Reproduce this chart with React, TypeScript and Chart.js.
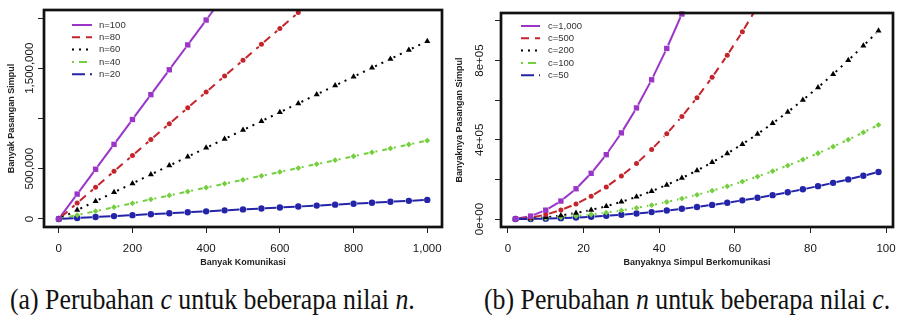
import React, { useEffect, useRef } from 'react';
import { Chart, registerables } from 'chart.js';

Chart.register(...registerables);

// ---------- Panel (a): Banyak Komunikasi vs Banyak Pasangan Simpul ----------
const komunikasiX = [0, 50, 100, 150, 200, 250, 300, 350, 400, 450, 500, 550, 600, 650, 700, 750, 800, 850, 900, 950, 1000];
const pasanganN100 = [0, 247500, 495000, 742500, 990000, 1237500, 1485000, 1732500, 1980000, 2227500];
const pasanganN80 = [0, 158000, 316000, 474000, 632000, 790000, 948000, 1106000, 1264000, 1422000, 1580000, 1738000, 1896000, 2054000, 2212000];
const pasanganN60 = [0, 88500, 177000, 265500, 354000, 442500, 531000, 619500, 708000, 796500, 885000, 973500, 1062000, 1150500, 1239000, 1327500, 1416000, 1504500, 1593000, 1681500, 1770000];
const pasanganN40 = [0, 39000, 78000, 117000, 156000, 195000, 234000, 273000, 312000, 351000, 390000, 429000, 468000, 507000, 546000, 585000, 624000, 663000, 702000, 741000, 780000];
const pasanganN20 = [0, 9500, 19000, 28500, 38000, 47500, 57000, 66500, 76000, 85500, 95000, 104500, 114000, 123500, 133000, 142500, 152000, 161500, 171000, 180500, 190000];
const legendA = ['n=100', 'n=80', 'n=60', 'n=40', 'n=20'];
const xTicksA = [0, 200, 400, 600, 800, 1000];
const xTickLabelsA = ['0', '200', '400', '600', '800', '1,000'];
const yTicksA = [0, 500000, 1000000, 1500000, 2000000];
const yTickLabelsA = ['0', '500,000', '', '1,500,000', ''];
const xTitleA = 'Banyak Komunikasi';
const yTitleA = 'Banyak Pasangan Simpul';
const captionA = ['(a) Perubahan ', 'c', ' untuk beberapa nilai ', 'n', '.'];

// ---------- Panel (b): Banyaknya Simpul Berkomunikasi vs Banyaknya Pasangan Simpul ----------
const simpulX = [2, 6, 10, 14, 18, 22, 26, 30, 34, 38, 42, 46, 50, 54, 58, 62, 66, 70, 74, 78, 82, 86, 90, 94, 98];
const pasanganC1000 = [1000, 15000, 45000, 91000, 153000, 231000, 325000, 435000, 561000, 703000, 861000, 1035000, 1225000];
const pasanganC500 = [500, 7500, 22500, 45500, 76500, 115500, 162500, 217500, 280500, 351500, 430500, 517500, 612500, 715500, 826500, 945500, 1072500];
const pasanganC200 = [200, 3000, 9000, 18200, 30600, 46200, 65000, 87000, 112200, 140600, 172200, 207000, 245000, 286200, 330600, 378200, 429000, 483000, 540200, 600600, 664200, 731000, 801000, 874200, 950600];
const pasanganC100 = [100, 1500, 4500, 9100, 15300, 23100, 32500, 43500, 56100, 70300, 86100, 103500, 122500, 143100, 165300, 189100, 214500, 241500, 270100, 300300, 332100, 365500, 400500, 437100, 475300];
const pasanganC50 = [50, 750, 2250, 4550, 7650, 11550, 16250, 21750, 28050, 35150, 43050, 51750, 61250, 71550, 82650, 94550, 107250, 120750, 135050, 150150, 166050, 182750, 200250, 218550, 237650];
const legendB = ['c=1,000', 'c=500', 'c=200', 'c=100', 'c=50'];
const xTicksB = [0, 20, 40, 60, 80, 100];
const xTickLabelsB = ['0', '20', '40', '60', '80', '100'];
const yTicksB = [0, 200000, 400000, 600000, 800000, 1000000];
const yTickLabelsB = ['0e+00', '', '4e+05', '', '8e+05', ''];
const xTitleB = 'Banyaknya Simpul Berkomunikasi';
const yTitleB = 'Banyaknya Pasangan Simpul';
const captionB = ['(b) Perubahan ', 'n', ' untuk beberapa nilai ', 'c', '.'];

// ---------- Styles ----------
const SERIES_STYLES = [
  { color: '#9a35c8', dash: [], point: 'rect', radius: 3.8 },
  { color: '#c4242b', dash: [8, 6], point: 'circle', radius: 2.5 },
  { color: '#000000', dash: [2, 5], point: 'triangle', radius: 3.5 },
  { color: '#74cf3e', dash: [2, 5, 8, 5], point: 'rectRot', radius: 2.9 },
  { color: '#2424a8', dash: [13, 5], point: 'circle', radius: 3.2 },
];

const FONT = "'Liberation Sans', Arial, sans-serif";

type PanelGeom = {
  width: number; height: number;
  areaLeft: number; areaRight: number; areaTop: number; areaBottom: number;
  yLabelX: number; yTitleX: number; xTitleY: number;
  legendX0: number; legendX1: number; legendTextX: number; legendY0: number; legendDY: number;
};

const rPanelPlugin = {
  id: 'rPanel',
  beforeDatasetsDraw(chart: any, _args: any, opts: any) {
    const { ctx, chartArea: a } = chart;
    const gap = opts.gap;
    ctx.save();
    ctx.beginPath();
    ctx.rect(a.left, a.top, a.right - a.left, a.bottom - a.top);
    ctx.clip();
    chart.data.datasets.forEach((ds: any, i: number) => {
      const pts = chart.getDatasetMeta(i).data;
      ctx.strokeStyle = ds.borderColor;
      ctx.lineWidth = 2;
      ctx.lineCap = 'butt';
      ctx.setLineDash(ds.borderDash || []);
      for (let k = 1; k < pts.length; k++) {
        const p0 = pts[k - 1];
        const p1 = pts[k];
        const dx = p1.x - p0.x;
        const dy = p1.y - p0.y;
        const len = Math.hypot(dx, dy);
        if (len <= 2 * gap) continue;
        const ux = dx / len;
        const uy = dy / len;
        ctx.beginPath();
        ctx.moveTo(p0.x + ux * gap, p0.y + uy * gap);
        ctx.lineTo(p1.x - ux * gap, p1.y - uy * gap);
        ctx.stroke();
      }
    });
    ctx.restore();
  },
  afterDraw(chart: any, _args: any, opts: any) {
    const { ctx, chartArea: a } = chart;
    const g: PanelGeom = opts.geom;
    ctx.save();
    // box
    ctx.setLineDash([]);
    ctx.strokeStyle = '#111';
    ctx.lineWidth = 2.7;
    ctx.strokeRect(a.left, a.top, a.right - a.left, a.bottom - a.top);

    // rotated y tick labels
    const yScale = chart.scales.y;
    ctx.fillStyle = '#151515';
    ctx.font = `11.5px ${FONT}`;
    ctx.textAlign = 'center';
    ctx.textBaseline = 'middle';
    opts.yTicks.forEach((v: number, i: number) => {
      const lbl = opts.yTickLabels[i];
      if (!lbl) return;
      const py = yScale.getPixelForValue(v);
      ctx.save();
      ctx.translate(g.yLabelX, py);
      ctx.rotate(-Math.PI / 2);
      ctx.fillText(lbl, 0, 0);
      ctx.restore();
    });

    // axis titles
    ctx.fillStyle = '#222';
    ctx.font = `bold 9px ${FONT}`;
    ctx.fillText(opts.xTitle, (a.left + a.right) / 2, g.xTitleY);
    ctx.save();
    ctx.translate(g.yTitleX, (a.top + a.bottom) / 2);
    ctx.rotate(-Math.PI / 2);
    ctx.fillText(opts.yTitle, 0, 0);
    ctx.restore();

    // legend
    ctx.font = `9.5px ${FONT}`;
    ctx.textAlign = 'left';
    chart.data.datasets.forEach((ds: any, i: number) => {
      const y = g.legendY0 + i * g.legendDY;
      ctx.strokeStyle = ds.borderColor;
      ctx.lineWidth = 2;
      ctx.setLineDash(ds.borderDash || []);
      ctx.beginPath();
      ctx.moveTo(g.legendX0, y);
      ctx.lineTo(g.legendX1, y);
      ctx.stroke();
      ctx.setLineDash([]);
      ctx.fillStyle = '#333';
      ctx.fillText(ds.label, g.legendTextX, y);
    });
    ctx.restore();
  },
};

type PanelProps = {
  xs: number[];
  series: number[][];
  labels: string[];
  xMin: number; xMax: number; yMin: number; yMax: number;
  xTicks: number[]; xTickLabels: string[];
  yTicks: number[]; yTickLabels: string[];
  xTitle: string; yTitle: string;
  geom: PanelGeom;
  left: number;
};

function Panel(p: PanelProps) {
  const ref = useRef<HTMLCanvasElement | null>(null);
  useEffect(() => {
    const g = p.geom;
    const datasets = p.series.map((ys, i) => {
      const st = SERIES_STYLES[i];
      return {
        label: p.labels[i],
        data: ys.map((y, j) => ({ x: p.xs[j], y })),
        showLine: false,
        borderColor: st.color,
        borderDash: st.dash,
        borderWidth: 2,
        pointStyle: st.point,
        pointRadius: st.radius,
        pointHoverRadius: st.radius,
        pointBackgroundColor: st.color,
        pointBorderColor: st.color,
        pointBorderWidth: 0,
        clip: 3,
      };
    });
    const chart = new Chart(ref.current as HTMLCanvasElement, {
      type: 'scatter',
      data: { datasets } as any,
      options: {
        animation: false,
        responsive: false,
        maintainAspectRatio: false,
        devicePixelRatio: 1,
        events: [],
        layout: {
          padding: { left: 0, top: g.areaTop, right: g.width - g.areaRight, bottom: 0 },
        },
        plugins: {
          legend: { display: false },
          tooltip: { enabled: false },
          rPanel: {
            gap: 3.5,
            geom: g,
            yTicks: p.yTicks,
            yTickLabels: p.yTickLabels,
            xTitle: p.xTitle,
            yTitle: p.yTitle,
          },
        } as any,
        scales: {
          x: {
            type: 'linear',
            min: p.xMin,
            max: p.xMax,
            afterBuildTicks: (s: any) => { s.ticks = p.xTicks.map((v) => ({ value: v })); },
            afterFit: (s: any) => {
              s.height = g.height - g.areaBottom;
              s.paddingLeft = 0; s.paddingRight = 0; s.paddingTop = 0; s.paddingBottom = 0;
            },
            grid: { drawOnChartArea: false, drawTicks: true, tickLength: 6, color: '#222', lineWidth: 1 },
            border: { display: false },
            ticks: {
              autoSkip: false,
              maxRotation: 0,
              minRotation: 0,
              padding: 9,
              color: '#151515',
              font: { family: FONT, size: 11.5 },
              callback: (_v: any, i: number) => p.xTickLabels[i],
            },
          },
          y: {
            type: 'linear',
            min: p.yMin,
            max: p.yMax,
            afterBuildTicks: (s: any) => { s.ticks = p.yTicks.map((v) => ({ value: v })); },
            afterFit: (s: any) => {
              s.width = g.areaLeft;
              s.paddingLeft = 0; s.paddingRight = 0; s.paddingTop = 0; s.paddingBottom = 0;
            },
            grid: { drawOnChartArea: false, drawTicks: true, tickLength: 6, color: '#222', lineWidth: 1 },
            border: { display: false },
            ticks: {
              autoSkip: false,
              padding: 2,
              font: { family: FONT, size: 11 },
              callback: () => '',
            },
          },
        } as any,
      },
      plugins: [rPanelPlugin as any],
    });
    return () => chart.destroy();
  }, []);
  return (
    <canvas
      ref={ref}
      width={p.geom.width}
      height={p.geom.height}
      style={{ position: 'absolute', left: p.left, top: 0, width: p.geom.width, height: p.geom.height }}
    />
  );
}

function Caption({ parts, left }: { parts: string[]; left: number }) {
  return (
    <div
      style={{
        position: 'absolute',
        left,
        top: 282,
        fontFamily: "'Liberation Serif', 'Times New Roman', serif",
        fontSize: 30,
        color: '#111',
        whiteSpace: 'nowrap',
        lineHeight: '34px',
        transform: 'scaleX(0.86)',
        transformOrigin: 'left top',
      }}
    >
      {parts.map((t, i) => (i % 2 === 1 ? <i key={i}>{t}</i> : <span key={i}>{t}</span>))}
    </div>
  );
}

const geomA: PanelGeom = {
  width: 447, height: 275,
  areaLeft: 44, areaRight: 442, areaTop: 10, areaBottom: 227,
  yLabelX: 30, yTitleX: 12, xTitleY: 263,
  legendX0: 72, legendX1: 92, legendTextX: 99, legendY0: 25, legendDY: 12.3,
};

const geomB: PanelGeom = {
  width: 450, height: 275,
  areaLeft: 54, areaRight: 446, areaTop: 13, areaBottom: 227,
  yLabelX: 33, yTitleX: 13, xTitleY: 263,
  legendX0: 74, legendX1: 93, legendTextX: 101, legendY0: 26, legendDY: 12.3,
};

export default function App() {
  return (
    <div style={{ position: 'fixed', left: 0, top: 0, width: 897, height: 321, background: '#fff', overflow: 'hidden' }}>
      <Panel
        xs={komunikasiX}
        series={[pasanganN100, pasanganN80, pasanganN60, pasanganN40, pasanganN20]}
        labels={legendA}
        xMin={-40} xMax={1040} yMin={-80000} yMax={2080000}
        xTicks={xTicksA} xTickLabels={xTickLabelsA}
        yTicks={yTicksA} yTickLabels={yTickLabelsA}
        xTitle={xTitleA} yTitle={yTitleA}
        geom={geomA}
        left={0}
      />
      <Panel
        xs={simpulX}
        series={[pasanganC1000, pasanganC500, pasanganC200, pasanganC100, pasanganC50]}
        labels={legendB}
        xMin={-1.84} xMax={101.84} yMin={-40000} yMax={1040000}
        xTicks={xTicksB} xTickLabels={xTickLabelsB}
        yTicks={yTicksB} yTickLabels={yTickLabelsB}
        xTitle={xTitleB} yTitle={yTitleB}
        geom={geomB}
        left={447}
      />
      <Caption parts={captionA} left={10} />
      <Caption parts={captionB} left={484} />
    </div>
  );
}
